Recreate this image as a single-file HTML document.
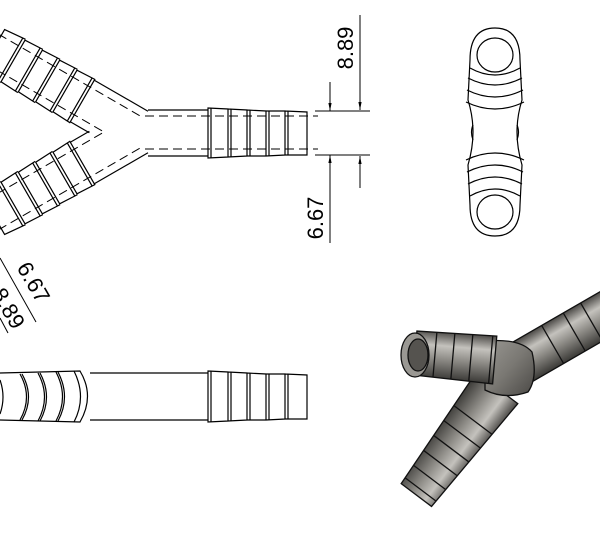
<!DOCTYPE html>
<html><head><meta charset="utf-8"><style>
html,body{margin:0;padding:0;background:#fff;}
svg{display:block;}
text{font-family:"Liberation Sans",sans-serif;font-size:22px;fill:#000;}
</style></head><body>
<svg width="600" height="542" viewBox="0 0 600 542" xmlns="http://www.w3.org/2000/svg">
<defs>
<linearGradient id="g1" x1="0" y1="0" x2="0" y2="1">
<stop offset="0" stop-color="#4a4845"/><stop offset="0.3" stop-color="#c4c2bd"/><stop offset="0.6" stop-color="#8a8883"/><stop offset="1" stop-color="#3a3936"/>
</linearGradient>
<linearGradient id="g2" x1="0" y1="0" x2="1" y2="1">
<stop offset="0" stop-color="#9a9893"/><stop offset="0.5" stop-color="#7a7873"/><stop offset="1" stop-color="#4a4845"/>
</linearGradient>
<marker id="ar" viewBox="0 0 10 10" refX="10" refY="5" markerWidth="8" markerHeight="8" orient="auto-start-reverse"><path d="M0,3 L10,5 L0,7 Z" fill="#000"/></marker>
</defs>
<g fill="none" stroke="#000" stroke-width="1.2">
<line x1="148" y1="110" x2="208" y2="110"/>
<line x1="148" y1="156" x2="208" y2="156"/>
<g stroke-dasharray="9,5" stroke-width="1">
<line x1="145" y1="116" x2="318" y2="116"/>
<line x1="145" y1="149" x2="318" y2="149"/>
</g>
<path d="M208,108 L228,109 L228,157 L208,158 Z M228,109 L247,110 L247,156 L228,157 M247,110 L266,111 L266,156 L247,156 M266,111 L285,111 L285,155 L266,156 M285,111 L307,112 L307,155 L285,155"/>
<path d="M211,108 L211,158 M231,109 L231,157 M250,110 L250,156 M269,111 L269,156 M288,111 L288,155"/>
<g transform="translate(136,132) rotate(30)">
<line x1="0" y1="-24" x2="-62" y2="-24"/>
<line x1="-40" y1="24" x2="-62" y2="24"/>
<path d="M-62,-25 L-82,-24 L-82,24 L-62,25 Z M-82,-25 L-102,-24 L-102,24 L-82,25 M-102,-25 L-122,-24 L-122,24 L-102,25 M-122,-25 L-142,-24 L-142,24 L-122,25 M-142,-25 L-165,-23 L-165,23 L-142,25"/>
<path d="M-65,-25 L-65,25 M-85,-25 L-85,25 M-105,-25 L-105,25 M-125,-25 L-125,25 M-145,-25 L-145,25"/>
<g stroke-dasharray="9,5" stroke-width="1"><line x1="-5" y1="-16" x2="-170" y2="-16"/><line x1="-30" y1="16" x2="-170" y2="16"/></g>
</g>
<g transform="translate(136,132) rotate(-30)">
<line x1="0" y1="24" x2="-62" y2="24"/>
<line x1="-40" y1="-24" x2="-62" y2="-24"/>
<path d="M-62,-25 L-82,-24 L-82,24 L-62,25 Z M-82,-25 L-102,-24 L-102,24 L-82,25 M-102,-25 L-122,-24 L-122,24 L-102,25 M-122,-25 L-142,-24 L-142,24 L-122,25 M-142,-25 L-165,-23 L-165,23 L-142,25"/>
<path d="M-65,-25 L-65,25 M-85,-25 L-85,25 M-105,-25 L-105,25 M-125,-25 L-125,25 M-145,-25 L-145,25"/>
<g stroke-dasharray="9,5" stroke-width="1"><line x1="-5" y1="16" x2="-170" y2="16"/><line x1="-30" y1="-16" x2="-170" y2="-16"/></g>
</g>
<g stroke-width="1">
<line x1="315" y1="111" x2="370" y2="111"/>
<line x1="315" y1="155" x2="370" y2="155"/>
<line x1="360" y1="15" x2="360" y2="110" marker-end="url(#ar)"/>
<line x1="360" y1="188" x2="360" y2="156" marker-end="url(#ar)"/>
<line x1="330" y1="82" x2="330" y2="111" marker-end="url(#ar)"/>
<line x1="330" y1="243" x2="330" y2="155" marker-end="url(#ar)"/>
<line x1="0" y1="258" x2="36" y2="322"/>
<line x1="0" y1="318" x2="8" y2="333"/>
</g>
</g>
<text transform="translate(353,48) rotate(-90)" text-anchor="middle">8.89</text>
<text transform="translate(323,218) rotate(-90)" text-anchor="middle">6.67</text>
<text transform="translate(27,286) rotate(60)" text-anchor="middle">6.67</text>
<text transform="translate(2,312) rotate(60)" text-anchor="middle">8.89</text>
<g fill="none" stroke="#000" stroke-width="1.2">
<line x1="90" y1="373" x2="208" y2="373"/>
<line x1="90" y1="420" x2="208" y2="420"/>
<path d="M208,371 L228,372 L228,421 L208,422 Z M228,372 L247,373 L247,420 L228,421 M247,373 L266,374 L266,420 L247,420 M266,374 L285,374 L285,419 L266,420 M285,374 L307,375 L307,419 L285,419"/>
<path d="M211,371 L211,422 M231,372 L231,421 M250,373 L250,420 M269,374 L269,420 M288,374 L288,419"/>
<path d="M0,373 L80,371 Q95,396 80,422 L0,420"/>
<path d="M20,374 Q33,397 20,420 M38,373 Q51,397 38,421 M56,372 Q69,397 56,421 M74,371 Q87,397 74,422 M22,374 Q35,397 22,420 M40,373 Q53,397 40,421 M58,372 Q71,397 58,421"/>
<path d="M0,380 Q6,397 0,414"/>
</g>
<g fill="none" stroke="#000" stroke-width="1.2">
<path d="M470,60 Q470,28 495,28 Q520,28 520,60 L522,100 Q517,116 517,132 Q517,148 522,165 L520,205 Q520,236 495,236 Q470,236 470,205 L468,165 Q473,148 473,132 Q473,116 468,100 Z"/>
<ellipse cx="495" cy="55" rx="18" ry="17"/>
<ellipse cx="495" cy="212" rx="18" ry="17"/>
<path d="M470,68 Q495,82 520,68 M468,78 Q495,92 522,78 M467,90 Q495,104 523,90 M466,102 Q495,116 524,102"/>
<path d="M466,160 Q495,146 524,160 M467,172 Q495,158 523,172 M468,184 Q495,170 522,184 M470,196 Q495,182 520,196"/>
<path d="M473,125 Q470,132 473,140 M517,125 Q520,132 517,140"/>
</g>
<g stroke="#111" stroke-width="1.3">
<g transform="translate(505,372) rotate(-30)">
<rect x="0" y="-22" width="130" height="44" fill="url(#g1)"/>
<line x1="55" y1="-22" x2="55" y2="22"/><line x1="80" y1="-22" x2="80" y2="22"/><line x1="100" y1="-22" x2="100" y2="22"/>
</g>
<g transform="translate(497,388) rotate(127)">
<path d="M0,-26 L134,-19 L134,19 L0,26 Z" fill="url(#g1)"/>
<line x1="40" y1="-24" x2="40" y2="24"/><line x1="58" y1="-23" x2="58" y2="23"/><line x1="76" y1="-22" x2="76" y2="22"/><line x1="94" y1="-21" x2="94" y2="21"/><line x1="112" y1="-20" x2="112" y2="20"/><line x1="127" y1="-19" x2="127" y2="19"/>
</g>
<path d="M485,341 Q520,338 532,352 Q538,378 528,392 Q505,400 485,390 Z" fill="url(#g2)"/>
<g transform="translate(415,353) rotate(5)">
<path d="M0,-22 L80,-24 L80,24 L0,22 Z" fill="url(#g1)"/>
<line x1="20" y1="-22" x2="20" y2="22"/><line x1="38" y1="-23" x2="38" y2="23"/><line x1="56" y1="-23" x2="56" y2="23"/><line x1="76" y1="-24" x2="76" y2="24"/>
</g>
<ellipse cx="415" cy="355" rx="14" ry="22" fill="#9a9893"/>
<ellipse cx="418" cy="355" rx="10" ry="16" fill="#55534f"/>
</g>
</svg>
</body></html>
